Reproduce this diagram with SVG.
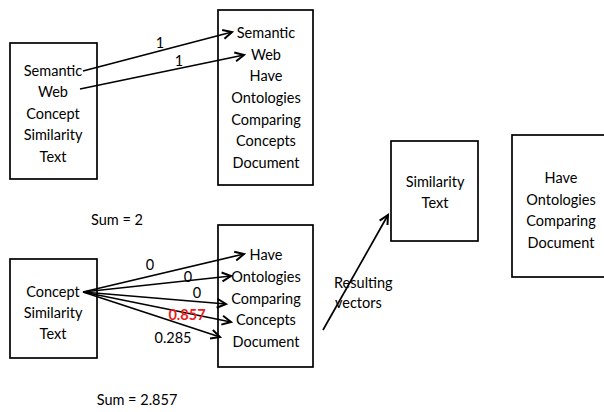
<svg xmlns="http://www.w3.org/2000/svg" width="604" height="412" viewBox="0 0 604 412">
  <style>
    .box { fill: #ffffff; stroke: #000000; stroke-width: 1.7; }
    .lbl { font-family: Lato, "Open Sans", "Liberation Sans", sans-serif; font-size: 14.5px; fill: #000000; text-anchor: middle; }
    .start { text-anchor: start; }
    .hot { fill: #e8201c; font-weight: bold; }
    .edge { stroke: #000000; stroke-width: 1.7; fill: none; marker-end: url(#head); }
  </style>
  <defs>
    <marker id="head" markerUnits="userSpaceOnUse" markerWidth="14" markerHeight="14" refX="11" refY="7" orient="auto">
      <path d="M2,2.5 L11,7 L2,11.5" fill="none" stroke="#000000" stroke-width="2"/>
    </marker>
  </defs>
  <rect width="604" height="412" fill="#ffffff"/>

  <!-- query sentence, full form -->
  <g id="query-full">
    <rect class="box" x="10" y="43" width="87" height="136"/>
    <text class="lbl" x="53" y="76">Semantic</text>
    <text class="lbl" x="53" y="97">Web</text>
    <text class="lbl" x="53" y="119">Concept</text>
    <text class="lbl" x="53" y="140">Similarity</text>
    <text class="lbl" x="53" y="162">Text</text>
  </g>

  <!-- document terms, first pass -->
  <g id="doc-full">
    <rect class="box" x="218" y="10" width="95" height="175"/>
    <text class="lbl" x="266" y="38">Semantic</text>
    <text class="lbl" x="266" y="60">Web</text>
    <text class="lbl" x="266" y="81">Have</text>
    <text class="lbl" x="266" y="103">Ontologies</text>
    <text class="lbl" x="266" y="125">Comparing</text>
    <text class="lbl" x="266" y="146">Concepts</text>
    <text class="lbl" x="266" y="168">Document</text>
  </g>

  <!-- remaining query terms -->
  <g id="query-rest">
    <rect class="box" x="10" y="259" width="87" height="99"/>
    <text class="lbl" x="53" y="297">Concept</text>
    <text class="lbl" x="53" y="318">Similarity</text>
    <text class="lbl" x="53" y="339">Text</text>
  </g>

  <!-- remaining document terms -->
  <g id="doc-rest">
    <rect class="box" x="218" y="225" width="95" height="142"/>
    <text class="lbl" x="266" y="260">Have</text>
    <text class="lbl" x="266" y="282">Ontologies</text>
    <text class="lbl" x="266" y="304">Comparing</text>
    <text class="lbl" x="266" y="325">Concepts</text>
    <text class="lbl" x="266" y="347">Document</text>
  </g>

  <!-- resulting vectors -->
  <g id="vec-query">
    <rect class="box" x="391" y="141" width="87" height="100"/>
    <text class="lbl" x="435" y="187">Similarity</text>
    <text class="lbl" x="435" y="208">Text</text>
  </g>
  <g id="vec-doc">
    <rect class="box" x="512" y="135" width="96" height="142"/>
    <text class="lbl" x="561" y="183">Have</text>
    <text class="lbl" x="561" y="205">Ontologies</text>
    <text class="lbl" x="561" y="226">Comparing</text>
    <text class="lbl" x="561" y="248">Document</text>
  </g>

  <!-- connectors -->
  <g id="connectors">
    <line class="edge" x1="83" y1="71" x2="232" y2="32"/>
    <line class="edge" x1="80" y1="89" x2="244" y2="55"/>
    <line class="edge" x1="83" y1="292" x2="244" y2="254"/>
    <line class="edge" x1="83" y1="292" x2="231" y2="276"/>
    <line class="edge" x1="83" y1="292" x2="226" y2="304"/>
    <line class="edge" x1="83" y1="292" x2="231" y2="322"/>
    <line class="edge" x1="83" y1="292" x2="220" y2="337"/>
    <line class="edge" x1="323" y1="330" x2="388" y2="215"/>
  </g>

  <!-- edge weights and totals -->
  <g id="labels">
    <text class="lbl" x="160" y="48">1</text>
    <text class="lbl" x="179" y="66">1</text>
    <text class="lbl" x="117" y="225">Sum = 2</text>
    <text class="lbl" x="150" y="270">0</text>
    <text class="lbl" x="188" y="282">0</text>
    <text class="lbl" x="197" y="298">0</text>
    <text class="lbl hot" x="187" y="320">0.857</text>
    <text class="lbl" x="173" y="343">0.285</text>
    <text class="lbl" x="137" y="405">Sum = 2.857</text>
    <text class="lbl start" x="334" y="288">Resulting</text>
    <text class="lbl start" x="335" y="308">vectors</text>
  </g>
</svg>
